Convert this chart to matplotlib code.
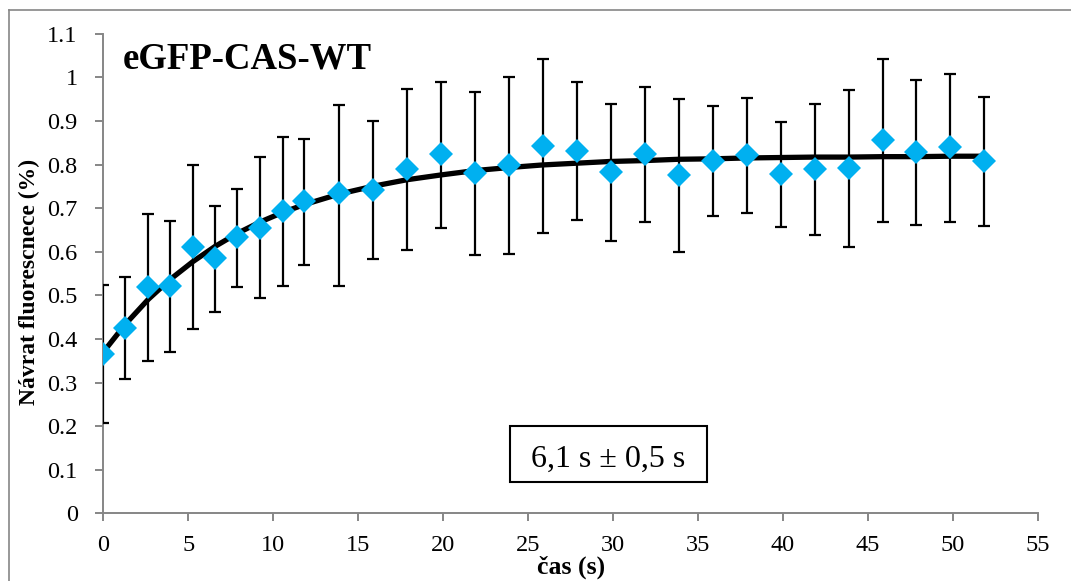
import numpy as np
import matplotlib
matplotlib.use('Agg')
import matplotlib.pyplot as plt
from matplotlib.patches import Rectangle
from matplotlib.lines import Line2D
from matplotlib.ticker import FuncFormatter

# measured FRAP recovery (mean +/- error)
cas = [0, 1.28, 2.65, 3.92, 5.26, 6.57, 7.88, 9.22, 10.55, 11.82,
       13.86, 15.85, 17.86, 19.86, 21.86, 23.86, 25.86, 27.86, 29.86, 31.86,
       33.86, 35.86, 37.86, 39.86, 41.86, 43.86, 45.86, 47.86, 49.86, 51.86]
navrat = [0.365, 0.424, 0.518, 0.521, 0.611, 0.586, 0.633, 0.655, 0.693, 0.716,
          0.734, 0.742, 0.790, 0.823, 0.780, 0.799, 0.843, 0.832, 0.783, 0.823,
          0.775, 0.809, 0.822, 0.779, 0.790, 0.792, 0.856, 0.828, 0.839, 0.808]
err_hi = [0.524, 0.541, 0.686, 0.671, 0.799, 0.705, 0.744, 0.817, 0.862, 0.858,
          0.936, 0.900, 0.973, 0.989, 0.966, 1.001, 1.043, 0.990, 0.939, 0.977,
          0.950, 0.934, 0.953, 0.897, 0.939, 0.971, 1.042, 0.993, 1.008, 0.955]
err_lo = [0.206, 0.307, 0.349, 0.370, 0.423, 0.462, 0.520, 0.493, 0.521, 0.570,
          0.522, 0.583, 0.605, 0.655, 0.592, 0.595, 0.642, 0.673, 0.625, 0.667,
          0.599, 0.681, 0.689, 0.657, 0.639, 0.611, 0.667, 0.661, 0.667, 0.659]
# fitted curve at the same times
fit = [0.370, 0.433, 0.491, 0.536, 0.577, 0.612, 0.642, 0.668, 0.690, 0.708,
       0.732, 0.750, 0.765, 0.776, 0.786, 0.793, 0.799, 0.803, 0.807, 0.809,
       0.812, 0.813, 0.815, 0.816, 0.817, 0.817, 0.818, 0.818, 0.819, 0.819]

xticks = list(range(0, 56, 5))
yticks = [0, 0.1, 0.2, 0.3, 0.4, 0.5, 0.6, 0.7, 0.8, 0.9, 1.0, 1.1]

plt.rcParams['font.family'] = ['Liberation Serif', 'DejaVu Serif']
grey = '#868686'

fig = plt.figure(figsize=(10.71, 5.81), dpi=100)
ax = fig.add_axes([0.0965, 0.1165, 0.8725, 0.8255])

y = np.array(navrat)
yerr = [y - np.array(err_lo), np.array(err_hi) - y]

ax.plot(cas, fit, color='black', lw=3.8, zorder=2, solid_capstyle='butt')
ax.errorbar(cas, navrat, yerr=yerr, fmt='none', ecolor='black',
            elinewidth=1.6, capsize=4.5, capthick=1.6, zorder=3)
ax.plot(cas, navrat, 'D', color='#00B0F0', ms=12.5, mew=0, zorder=4)

ax.set_xlim(0, 55)
ax.set_ylim(0, 1.1)
ax.set_xticks(xticks)
ax.set_yticks(yticks)
ax.yaxis.set_major_formatter(FuncFormatter(lambda v, p: '%g' % v))

for s in ['top', 'right']:
    ax.spines[s].set_visible(False)
for s in ['left', 'bottom']:
    ax.spines[s].set_color(grey)
    ax.spines[s].set_linewidth(1.4)
ax.tick_params(axis='both', direction='out', color=grey, width=1.4,
               length=5.5, labelsize=17.5)
ax.tick_params(axis='y', pad=13)
ax.tick_params(axis='x', pad=10)

ax.set_xlabel('čas (s)', fontsize=18.5, fontweight='bold')
ax.xaxis.set_label_coords(0.5, -0.088)
ax.set_ylabel('Návrat fluorescnece (%)', fontsize=17, fontweight='bold')
ax.yaxis.set_label_coords(-0.068, 0.482)

ax.text(0.021, 0.928, 'eGFP-CAS-WT', transform=ax.transAxes,
        fontsize=26.5, fontweight='bold', va='baseline', ha='left')

ax.add_patch(Rectangle((0.4353, 0.0646), 0.2111, 0.1181, transform=ax.transAxes,
                       fill=False, ec='black', lw=1.5, zorder=5))
ax.text(0.5407, 0.097, '6,1 s ± 0,5 s', transform=ax.transAxes,
        fontsize=23, ha='center', va='baseline', zorder=6)

# outer chart border (only left and top visible)
fig.add_artist(Line2D([0.0084, 0.0084], [0, 0.9828], color=grey, lw=1.2,
                      transform=fig.transFigure))
fig.add_artist(Line2D([0.0084, 1], [0.9828, 0.9828], color=grey, lw=1.2,
                      transform=fig.transFigure))

fig.savefig('out.png', dpi=100)
